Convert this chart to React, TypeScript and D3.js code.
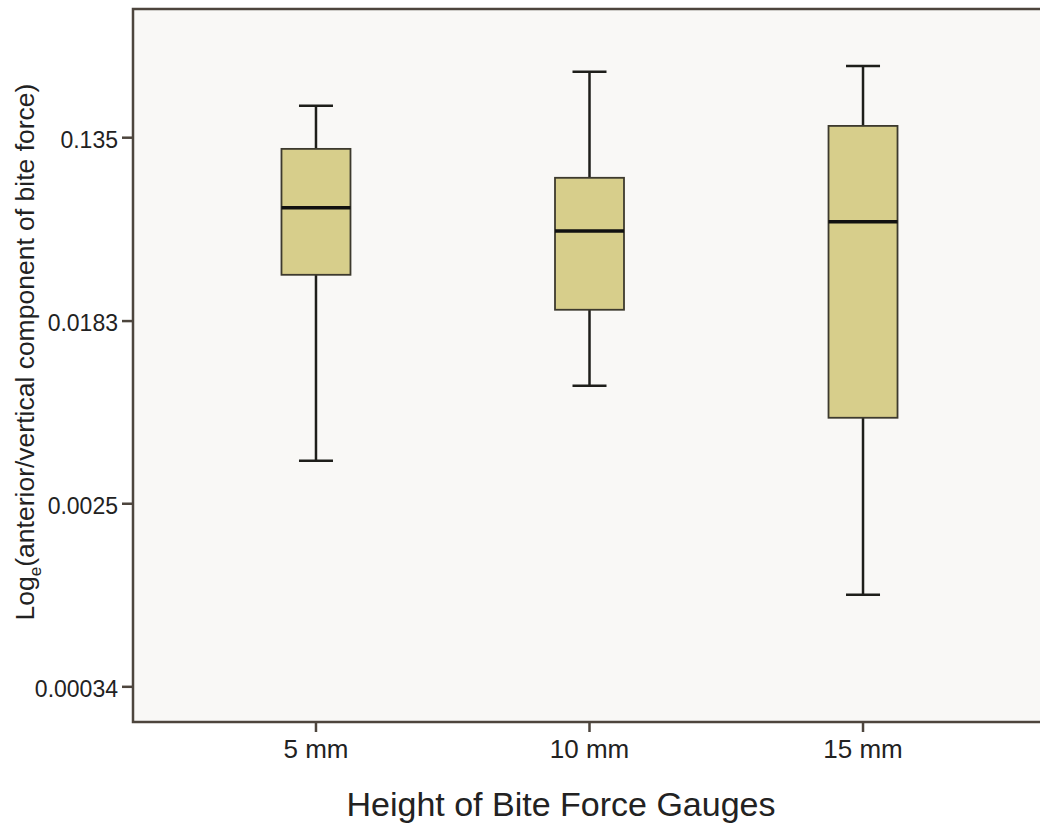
import * as d3 from 'd3'

// gauge heights and the five box-plot statistics
const categories = ['5 mm', '10 mm', '15 mm']
const whiskerHigh = [0.191, 0.277, 0.295]
const q3 = [0.1195, 0.0872, 0.1535]
const median = [0.0629, 0.0489, 0.054]
const q1 = [0.0303, 0.0207, 0.00638]
const whiskerLow = [0.00399, 0.00904, 0.000927]

const tickValues = [0.135, 0.0183, 0.0025, 0.00034]
const tickLabels = ['0.135', '0.0183', '0.0025', '0.00034']

const App = () => {
    const width = 1040, height = 825
    const plot = {left: 133, right: 1046, top: 9, bottom: 722}

    const x = d3.scalePoint<string>()
        .domain(categories)
        .range([plot.left, plot.right])
        .padding(0.669)

    const y = d3.scaleLog()
        .base(Math.E)
        .domain([Math.exp(-8.37), Math.exp(-0.6)])
        .range([plot.bottom, plot.top])

    const boxW = 69, capW = 34
    const font = "'Liberation Sans', Arial, sans-serif"

    const boxes = categories.map((c, i) => {
        const cx = x(c) as number
        return (
            <g key={c}>
                <line x1={cx} x2={cx} y1={y(whiskerHigh[i])} y2={y(q3[i])} stroke="#1e1e1a" strokeWidth={2.5}/>
                <line x1={cx} x2={cx} y1={y(q1[i])} y2={y(whiskerLow[i])} stroke="#1e1e1a" strokeWidth={2.5}/>
                <line x1={cx - capW / 2} x2={cx + capW / 2} y1={y(whiskerHigh[i])} y2={y(whiskerHigh[i])} stroke="#1e1e1a" strokeWidth={2.5}/>
                <line x1={cx - capW / 2} x2={cx + capW / 2} y1={y(whiskerLow[i])} y2={y(whiskerLow[i])} stroke="#1e1e1a" strokeWidth={2.5}/>
                <rect x={cx - boxW / 2} y={y(q3[i])} width={boxW} height={y(q1[i]) - y(q3[i])}
                      fill="#d7ce8b" stroke="#3d3a2e" strokeWidth={1.8}/>
                <line x1={cx - boxW / 2} x2={cx + boxW / 2} y1={y(median[i])} y2={y(median[i])} stroke="#111" strokeWidth={3.5}/>
            </g>
        )
    })

    return (
        <svg width={width} height={height} style={{position: 'absolute', left: 0, top: 0, background: '#fff'}}>
            <rect x={plot.left} y={plot.top} width={plot.right - plot.left} height={plot.bottom - plot.top}
                  fill="#f9f8f6" stroke="#4d453d" strokeWidth={2.5}/>
            {boxes}
            {/* y axis ticks */}
            {tickValues.map((v, i) => (
                <g key={v}>
                    <line x1={plot.left - 11} x2={plot.left} y1={y(v)} y2={y(v)} stroke="#4d453d" strokeWidth={2.5}/>
                    <text x={plot.left - 15} y={y(v) + 2} dy="0.35em" textAnchor="end"
                          fontFamily={font} fontSize={23} fill="#222">{tickLabels[i]}</text>
                </g>
            ))}
            {/* x axis ticks */}
            {categories.map(c => (
                <g key={c}>
                    <line x1={x(c)} x2={x(c)} y1={plot.bottom} y2={plot.bottom + 10} stroke="#4d453d" strokeWidth={2.5}/>
                    <text x={x(c)} y={758} textAnchor="middle" fontFamily={font} fontSize={26} fill="#222">{c}</text>
                </g>
            ))}
            <text x={561} y={816} textAnchor="middle" fontFamily={font} fontSize={34} fill="#222">
                Height of Bite Force Gauges
            </text>
            <text transform="translate(34,352) rotate(-90)" textAnchor="middle" fontFamily={font} fontSize={26.5} fill="#222">
                Log<tspan fontSize={17} dy={7}>e</tspan><tspan dy={-7}>(anterior/vertical component of bite force)</tspan>
            </text>
        </svg>
    )
}

export default App
